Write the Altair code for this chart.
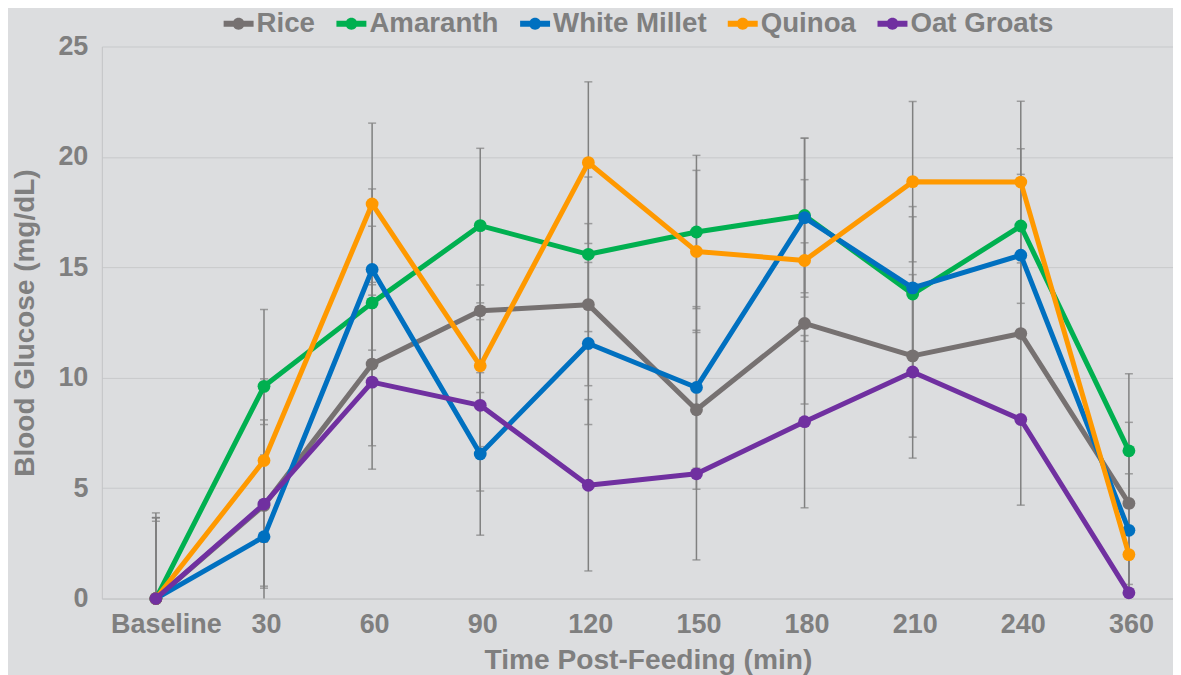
import altair as alt
import pandas as pd

times = ["Baseline", "30", "60", "90", "120", "150", "180", "210", "240", "360"]
series = ["Rice", "Amaranth", "White Millet", "Quinoa", "Oat Groats"]
colors = ["#767171", "#00b050", "#0070c0", "#ff9900", "#7030a0"]

rice = [0, 4.22, 10.62, 13.03, 13.31, 8.55, 12.46, 10.99, 12.00, 4.31]
amaranth = [0, 9.61, 13.39, 16.89, 15.59, 16.60, 17.35, 13.79, 16.87, 6.69]
white_millet = [0, 2.80, 14.90, 6.55, 11.55, 9.56, 17.25, 14.07, 15.55, 3.09]
quinoa = [0, 6.25, 17.87, 10.54, 19.74, 15.72, 15.31, 18.88, 18.86, 1.99]
oat_groats = [0, 4.28, 9.80, 8.75, 5.13, 5.65, 8.01, 10.26, 8.11, 0.26]

rice_sd = [3.67, 3.66, 3.70, 3.70, 3.67, 3.60, 3.65, 3.68, 3.70, 3.67]
amaranth_sd = [3.50, 3.48, 3.47, 3.50, 3.50, 3.47, 3.50, 3.50, 3.50, 3.49]
white_millet_sd = [3.66, 3.70, 3.65, 3.68, 3.67, 3.66, 3.60, 3.68, 3.66, 3.65]
quinoa_sd = [3.66, 3.70, 3.66, 3.66, 3.66, 3.67, 3.66, 3.63, 3.66, 3.66]
oat_groats_sd = [3.88, 3.81, 3.94, 3.88, 3.88, 3.90, 3.90, 3.90, 3.88, 3.90]

y_ticks = [0, 5, 10, 15, 20, 25]

means = [rice, amaranth, white_millet, quinoa, oat_groats]
sds = [rice_sd, amaranth_sd, white_millet_sd, quinoa_sd, oat_groats_sd]

rows = []
for s, m, e in zip(series, means, sds):
    for i, t in enumerate(times):
        rows.append({"series": s, "idx": i, "time": t, "mean": m[i], "sd": e[i]})
df = pd.DataFrame(rows)

FONT = "Liberation Sans"
TXT = "#7f7f7f"

label_expr = "[" + ",".join("'" + t + "'" for t in times) + "][datum.value]"

x_enc = alt.X(
    "idx:Q",
    scale=alt.Scale(domain=[-0.5, 9.408], nice=False, zero=False),
    axis=alt.Axis(
        values=list(range(len(times))), labelExpr=label_expr,
        title="Time Post-Feeding (min)", grid=False, ticks=False,
        labelPadding=13, titlePadding=9, domainColor="#c3c4c6",
        labelFlush=False, labelOverlap=False,
        labelOffset={"condition": {"test": "datum.value == 0", "value": 10}, "value": 2},
        titleX=547, titleFontSize=28.2,
    ),
)


def y_enc(field):
    return alt.Y(
        field,
        type="quantitative",
        scale=alt.Scale(domain=[0, 25], nice=False),
        axis=alt.Axis(
            values=y_ticks, title="Blood Glucose (mg/dL)", grid=True,
            ticks=False, labelPadding=14, titlePadding=18,
            domainColor="#c3c4c6",
        ),
    )


base = alt.Chart(df).transform_calculate(
    lo="max(0, datum.mean - datum.sd)", hi="datum.mean + datum.sd",
    rawlo="datum.mean - datum.sd",
)

err_rule = base.mark_rule(color="#808080", strokeWidth=1.5).encode(
    x=x_enc, y=y_enc("lo"), y2="hi:Q"
)
cap_top = base.mark_tick(
    color="#808080", orient="horizontal", size=8, thickness=1.5
).encode(x=x_enc, y=y_enc("hi"))
cap_bot = base.transform_filter("datum.rawlo > 0").mark_tick(
    color="#808080", orient="horizontal", size=8, thickness=1.5
).encode(x=x_enc, y=y_enc("rawlo"))

legend = alt.Legend(
    title=None, orient="none", legendX=122, legendY=-38, direction="horizontal",
    symbolType="M-1,-0.2H1V0.2H-1Z M0.4,0A0.4,0.4,0,1,1,-0.4,0A0.4,0.4,0,1,1,0.4,0Z",
    symbolSize=900, symbolStrokeWidth=0, symbolOpacity=1,
    labelFontSize=27.7, labelFont=FONT, labelFontWeight="bold", labelColor=TXT,
    labelOffset=3, columnPadding=21, padding=0,
)

layers = [err_rule, cap_top, cap_bot]
for s, c in zip(series, colors):
    sub = base.transform_filter(alt.datum.series == s)
    line = sub.mark_line(
        color=c, strokeWidth=5, strokeJoin="round", strokeCap="round"
    ).encode(x=x_enc, y=y_enc("mean"))
    pts = sub.mark_circle(size=165, opacity=1).encode(
        x=x_enc, y=y_enc("mean"),
        color=alt.Color("series:N", scale=alt.Scale(domain=series, range=colors), legend=legend),
    )
    layers += [line, pts]

chart = alt.layer(*layers).properties(
    width=1073, height=553,
    padding={"left": 3, "top": 0, "right": 0, "bottom": 0},
    background="#dcdddf",
).configure_view(stroke=None).configure_axis(
    labelFont=FONT, labelFontSize=27, labelFontWeight="bold", labelColor=TXT,
    titleFont=FONT, titleFontSize=28, titleFontWeight="bold", titleColor=TXT,
    gridColor="#c8c9cb", gridWidth=1,
)

chart.save("out.html", embed_options={"renderer": "svg", "actions": False})
